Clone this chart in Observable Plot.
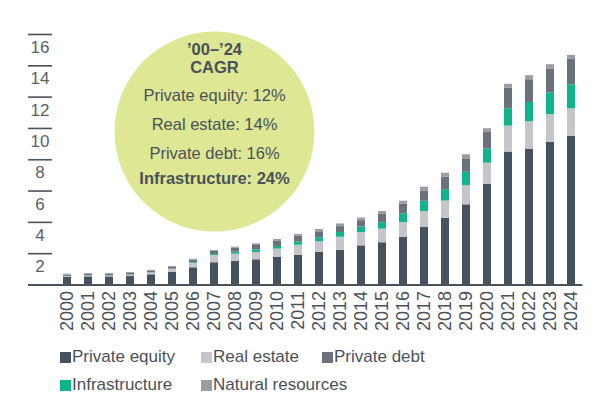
<!DOCTYPE html>
<html>
<head>
<meta charset="utf-8">
<script src="https://cdn.jsdelivr.net/npm/d3@7"></script>
<script src="https://cdn.jsdelivr.net/npm/@observablehq/plot@0.6"></script>
<style>
  body { margin: 0; background: #fff; font-family: "Liberation Sans", Arial, sans-serif; }
  #chart svg { display: block; }
  .legend { display: grid; grid-template-columns: 141px 121px 200px; margin-left: 60px; margin-top: -2px;
            font-size: 17px; color: #4b5159; }
  .legend div { height: 28px; line-height: 28px; white-space: nowrap; }
  .legend span { display: inline-block; width: 11px; height: 11px; margin-right: 1px; vertical-align: -1px; }
</style>
</head>
<body>
<div id="chart"></div>
<div class="legend" id="legend"></div>
<script>
const years = d3.range(2000, 2025).map(String)

// values, bottom to top of each bar
const privateEquity = [0.48,0.52,0.52,0.54,0.65,0.80,1.10,1.42,1.52,1.61,1.78,1.90,2.10,2.22,2.50,2.70,3.05,3.69,4.25,5.12,6.44,8.49,8.68,9.11,9.49]
const realEstate    = [0.06,0.06,0.06,0.09,0.12,0.20,0.29,0.47,0.45,0.47,0.51,0.64,0.66,0.83,0.85,0.87,0.94,1.00,1.11,1.23,1.34,1.66,1.75,1.77,1.77]
const infrastructure= [0.01,0.01,0.01,0.01,0.01,0.02,0.05,0.06,0.13,0.17,0.17,0.21,0.26,0.30,0.36,0.41,0.56,0.66,0.73,0.85,0.92,1.11,1.23,1.38,1.53]
const privateDebt   = [0.09,0.09,0.09,0.10,0.10,0.11,0.15,0.19,0.26,0.32,0.36,0.38,0.38,0.38,0.40,0.53,0.61,0.64,0.79,0.86,1.04,1.30,1.45,1.51,1.62]
const naturalRes    = [0.05,0.05,0.05,0.06,0.06,0.06,0.06,0.06,0.06,0.06,0.09,0.10,0.15,0.17,0.17,0.19,0.19,0.26,0.26,0.26,0.24,0.26,0.26,0.30,0.26]

const yTicks = [2, 4, 6, 8, 10, 12, 14, 16]

const series = [
  {name: "Private equity", values: privateEquity, color: "#46525e"},
  {name: "Real estate", values: realEstate, color: "#c4c6ca"},
  {name: "Infrastructure", values: infrastructure, color: "#10b48c"},
  {name: "Private debt", values: privateDebt, color: "#6b717b"},
  {name: "Natural resources", values: naturalRes, color: "#9a9da2"}
]
const legendOrder = ["Private equity", "Real estate", "Private debt", "Infrastructure", "Natural resources"]

const cagrTitle = "\u201900\u2013\u201924\nCAGR"
const cagrLines = "Private equity: 12%\nReal estate: 14%\nPrivate debt: 16%"
const cagrBold = "Infrastructure: 24%"

const rows = series.flatMap(s => s.values.map((v, i) => ({year: years[i], value: v, series: s.name})))

let chart = Plot.plot({
  width: 599,
  height: 345,
  marginTop: 34,
  marginBottom: 60.5,
  marginLeft: 28,
  marginRight: 16.5,
  style: {fontFamily: "Liberation Sans, Arial, sans-serif", color: "#4b5159"},
  x: {type: "band", domain: years, paddingInner: 0.6, paddingOuter: 0.3, insetLeft: 27.5, label: null},
  y: {domain: [0, 16], axis: null},
  color: {domain: series.map(s => s.name), range: series.map(s => s.color)},
  marks: [
    // CAGR bubble
    Plot.dot([0], {x: () => "2007", y: () => 9.8, r: 100, fill: "#dde794", stroke: null}),
    Plot.text([cagrTitle], {x: () => "2007", y: () => 14.5, text: d => d, fontSize: 16.5, fontWeight: "bold", lineHeight: 1.1, fill: "#4b5159"}),
    Plot.text([cagrLines], {x: () => "2007", y: () => 10.5, text: d => d, fontSize: 16.5, lineHeight: 1.77, fill: "#4b5159"}),
    Plot.text([cagrBold], {x: () => "2007", y: () => 6.81, text: d => d, fontSize: 16.5, fontWeight: "bold", fill: "#4b5159"}),
    // y ticks: short rules with labels under them
    Plot.ruleY(yTicks, {y: d => d, insetRight: 530.5, stroke: "#4b5159", strokeWidth: 1.6}),
    Plot.text(yTicks, {y: d => d, frameAnchor: "left", textAnchor: "middle", dx: 11.5, dy: 13, text: d => String(d), fontSize: 17, fill: "#5a5f66"}),
    Plot.barY(rows, Plot.stackY({order: series.map(s => s.name)}, {x: "year", y: "value", fill: "series"})),
    Plot.ruleY([0], {stroke: "#4a535c", strokeWidth: 2.2}),
    Plot.axisX({tickRotate: -90, tickSize: 0, tickPadding: 6, fontSize: 18, label: null, fill: "#4b5159"})
  ]
})
d3.select('#chart').append(() => chart)

const legend = d3.select('#legend')
legendOrder.forEach(n => {
  const s = series.find(d => d.name === n)
  const item = legend.append('div')
  item.append('span').style('background', s.color)
  item.append('text').text(n)
})
</script>
</body>
</html>
